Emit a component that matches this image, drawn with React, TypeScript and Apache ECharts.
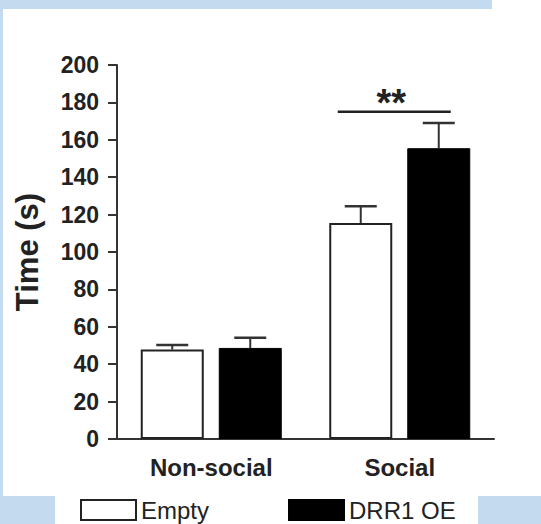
import React, { useEffect, useRef } from "react";
import * as echarts from "echarts";

const categories = ["Non-social", "Social"];
const seriesNames = ["Empty", "DRR1 OE"];
const emptyMeans = [47.8, 115.5];
const emptySem = [2.5, 9];
const drrMeans = [48.7, 155.5];
const drrSem = [5.5, 13.5];
const sigCategory = 1;
const sigLevel = 175;
const sigText = "**";
const yTicks = { min: 0, max: 200, interval: 20 };

const FONT = "'Liberation Sans', Arial, sans-serif";
const BAR_W = 63;
const BAR_GAP = 15;
const OFFSET = (BAR_W + BAR_GAP) / 2;

export default function App() {
  const ref = useRef<HTMLDivElement>(null);
  useEffect(() => {
    if (!ref.current) return;
    const chart = echarts.init(ref.current, null, { renderer: "svg" });
    const errData = (means: number[], sems: number[], side: number) =>
      means.map((m, i) => [i, m, sems[i], side]);
    const errRender = (params: any, api: any) => {
      const cat = api.value(0);
      const mean = api.value(1);
      const sem = api.value(2);
      const side = api.value(3);
      const base = api.coord([cat, mean]);
      const top = api.coord([cat, mean + sem]);
      const x = base[0] + side * OFFSET;
      return {
        type: "group",
        children: [
          { type: "line", shape: { x1: x, y1: base[1], x2: x, y2: top[1] }, style: { stroke: "#333", lineWidth: 2 } },
          { type: "line", shape: { x1: x - 16, y1: top[1], x2: x + 16, y2: top[1] }, style: { stroke: "#333", lineWidth: 2.5 } },
        ],
      };
    };
    chart.setOption({
      animation: false,
      backgroundColor: "transparent",
      graphic: [
        { type: "rect", z: -10, shape: { x: 3, y: 9, width: 538, height: 487 }, style: { fill: "#fff" }, silent: true },
        { type: "rect", z: -10, shape: { x: 492, y: 0, width: 49, height: 10 }, style: { fill: "#fff" }, silent: true },
        { type: "rect", z: -10, shape: { x: 55, y: 495, width: 423, height: 29 }, style: { fill: "#fff" }, silent: true },
      ],
      grid: { left: 117, right: 47, top: 65, bottom: 85, containLabel: false },
      legend: {
        data: seriesNames,
        left: 80,
        top: 498,
        itemWidth: 55,
        itemHeight: 20,
        itemGap: 79,
        padding: 0,
        icon: "rect",
        textStyle: { fontFamily: FONT, fontSize: 24, lineHeight: 22, color: "#222", padding: [0, 0, 2, 0] },
      },
      xAxis: {
        type: "category",
        data: categories,
        axisLine: { lineStyle: { color: "#333", width: 2 } },
        axisTick: { show: false },
        axisLabel: { fontFamily: FONT, fontWeight: "bold", fontSize: 24, color: "#222", margin: 16 },
      },
      yAxis: {
        type: "value",
        min: yTicks.min,
        max: yTicks.max,
        interval: yTicks.interval,
        name: "Time (s)",
        nameLocation: "middle",
        nameRotate: 90,
        nameGap: 74,
        nameTextStyle: { fontFamily: FONT, fontWeight: "bold", fontSize: 31, color: "#222" },
        splitLine: { show: false },
        axisLine: { show: true, lineStyle: { color: "#333", width: 2 } },
        axisTick: { show: true, length: 9, lineStyle: { color: "#333", width: 2 } },
        axisLabel: { fontFamily: FONT, fontWeight: "bold", fontSize: 23, color: "#222", margin: 18 },
      },
      series: [
        {
          name: seriesNames[0],
          type: "bar",
          data: emptyMeans,
          barWidth: BAR_W,
          barGap: `${(BAR_GAP / BAR_W) * 100}%`,
          itemStyle: { color: "#fff", borderColor: "#222", borderWidth: 2 },
        },
        {
          name: seriesNames[1],
          type: "bar",
          data: drrMeans,
          barWidth: BAR_W,
          itemStyle: { color: "#000", borderColor: "#000", borderWidth: 1 },
        },
        { type: "custom", data: errData(emptyMeans, emptySem, -1), renderItem: errRender, z: 5 },
        { type: "custom", data: errData(drrMeans, drrSem, 1), renderItem: errRender, z: 5 },
        {
          type: "custom",
          data: [[sigCategory, sigLevel]],
          z: 5,
          renderItem: (params: any, api: any) => {
            const p = api.coord([api.value(0), api.value(1)]);
            const x1 = p[0] - OFFSET - 23;
            const x2 = p[0] + OFFSET + 12;
            return {
              type: "group",
              children: [
                { type: "line", shape: { x1, y1: p[1], x2, y2: p[1] }, style: { stroke: "#222", lineWidth: 2.5 } },
                {
                  type: "text",
                  style: {
                    text: sigText,
                    x: (x1 + x2) / 2 - 3,
                    y: p[1] - 28,
                    align: "center",
                    verticalAlign: "top",
                    fill: "#222",
                    font: `bold 38px ${FONT}`,
                  },
                },
              ],
            };
          },
        },
      ],
    });
    return () => chart.dispose();
  }, []);
  return (
    <div
      style={{ position: "absolute", left: 0, top: 0, width: 541, height: 524, background: "#c4daef" }}
    >
      <div ref={ref} style={{ width: 541, height: 524 }} />
    </div>
  );
}
